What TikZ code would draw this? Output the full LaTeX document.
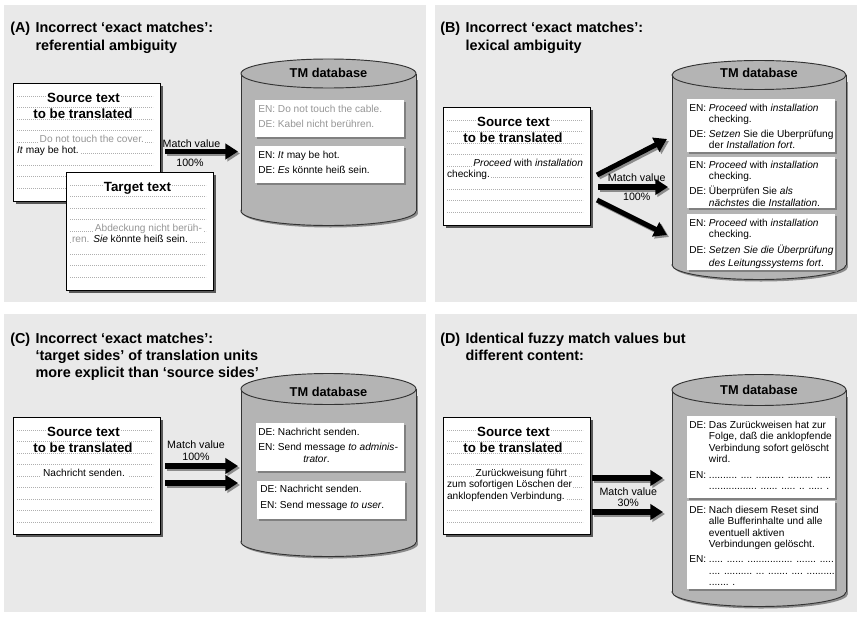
\documentclass[tikz,border=0pt]{standalone}
\usepackage{fontspec}
\setmainfont{Liberation Sans}
\usepackage{tikz}
\usetikzlibrary{arrows.meta,shadows}
\usepackage{xcolor}
\definecolor{panelgray}{RGB}{233,233,233}
\definecolor{dbgray}{RGB}{180,180,180}
\definecolor{fadedtext}{RGB}{150,150,150}
\definecolor{rulegray}{RGB}{175,175,175}

\begin{document}
\begin{tikzpicture}[x=0.75pt, y=-0.75pt,
    paneltitle/.style={anchor=base west, inner sep=0pt, font=\bfseries\fontsize{10.8}{12.8}\selectfont},
    paper/.style={draw=black, fill=white, line width=0.7pt, drop shadow={shadow xshift=2.2pt, shadow yshift=-2.2pt, fill=black!65, opacity=1}},
    ruled/.style={rulegray, line width=0.45pt, dash pattern=on 0.4pt off 1.1pt},
    papertitle/.style={fill=white, inner sep=0.3pt, font=\bfseries\fontsize{10}{12}\selectfont},
    papertext/.style={fill=white, inner sep=0.6pt, font=\fontsize{7.6}{8.6}\selectfont},
    dbbody/.style={fill=dbgray, draw=black!80, line width=0.7pt},
    dbtitle/.style={font=\bfseries\fontsize{9.6}{11}\selectfont},
    tmunit/.style={fill=white, drop shadow={shadow xshift=1.5pt, shadow yshift=-1.5pt, fill=black!50, opacity=1}},
    unittext/.style={anchor=base west, inner sep=0pt, font=\fontsize{7.6}{8.6}\selectfont},
    matchlabel/.style={inner sep=0pt, font=\fontsize{8}{9.6}\selectfont},
    matcharrow/.style={line width=3.8pt, -{Triangle[length=9.5pt, width=11.5pt]}},
    arrowshadow/.style={matcharrow, black!45},
]
    \useasboundingbox (0,0) rectangle (862,617);
    \fill[white] (0,0) rectangle (862,617);

    % panel backgrounds
    \fill[panelgray] (4,5) rectangle (426,302);
    \fill[panelgray] (435,5) rectangle (857,302);
    \fill[panelgray] (4,314) rectangle (426,612);
    \fill[panelgray] (435,314) rectangle (857,612);

    % ---------- (A) ----------
    \node[paneltitle] (titleA) at (10,33) {\begin{tabular}[t]{@{}l@{\hspace{4pt}}l@{}}(A)&Incorrect ‘exact matches’:\\&referential ambiguity\end{tabular}};

    \draw[paper] (13,83) rectangle (160,201);
    \foreach \k in {0,...,8}
        \draw[ruled] (17,96+11.5*\k) -- (153,96+11.5*\k);
    \node[papertitle] (srcA-title) at (83.5,98) {Source text};
    \node[papertitle] (srcA-title2) at (83,114) {to be translated};
    \node[papertext, anchor=base east, text=fadedtext] (srcA-l1) at (145,142) {Do not touch the cover.};
    \node[papertext, anchor=base west] (srcA-l2) at (16,153.5) {\textit{It} may be hot.};

    \draw[paper] (66,172) rectangle (213,290);
    \foreach \k in {0,...,8}
        \draw[ruled] (70,185+11.5*\k) -- (206,185+11.5*\k);
    \node[papertitle] (tgtA-title) at (137.5,188) {Target text};
    \node[papertext, anchor=base east, text=fadedtext] (tgtA-l1) at (203,231) {Abdeckung nicht berüh-};
    \node[papertext, anchor=base west] (tgtA-l2) at (71,242.5) {\textcolor{fadedtext}{ren.} \textit{Sie} könnte heiß sein.};

    % database A
    \fill[black!45] (243,80) rectangle (418,213);
    \fill[black!45] (330.5,213) ellipse [x radius=87.5, y radius=14.5];
    \draw[dbbody] (328.5,211) ellipse [x radius=87.5, y radius=14.5];
    \fill[dbgray] (241,73.5) rectangle (416,211);
    \draw[black!80, line width=0.7pt] (241,73.5) -- (241,211) (416,73.5) -- (416,211);
    \draw[dbbody] (328.5,73.5) ellipse [x radius=87.5, y radius=14.5];
    \node[dbtitle] (dbA) at (328.5,73) {TM database};

    \fill[tmunit] (255,100) rectangle (404,137);
    \node[unittext, text=fadedtext] (A-unit1) at (258,112.5) {\begin{tabular}[t]{@{}l@{\ }l@{}}EN:&Do not touch the cable.\\[3pt]DE:&Kabel nicht berühren.\end{tabular}};
    \fill[tmunit] (255,146) rectangle (404,183);
    \node[unittext] (A-unit2) at (258,158) {\begin{tabular}[t]{@{}l@{\ }l@{}}EN:&\textit{It} may be hot.\\[3.3pt]DE:&\textit{Es} könnte heiß sein.\end{tabular}};

    \node[matchlabel] (mvA) at (191.5,143.5) {Match value};
    \node[matchlabel] (pcA) at (190,162.5) {100\%};
    \coordinate (A-out) at (165,151.5);
    \coordinate (A-in) at (238,151.5);
    \draw[arrowshadow] ([shift={(2,2)}]A-out) -- ([shift={(2,2)}]A-in);
    \draw[matcharrow] (A-out) -- (A-in);

    % ---------- (B) ----------
    \node[paneltitle] (titleB) at (440,33) {\begin{tabular}[t]{@{}l@{\hspace{4pt}}l@{}}(B)&Incorrect ‘exact matches’:\\&lexical ambiguity\end{tabular}};

    \draw[paper] (443,107) rectangle (590,225);
    \foreach \k in {0,...,8}
        \draw[ruled] (447,120+11.5*\k) -- (583,120+11.5*\k);
    \node[papertitle] (srcB-title) at (513.5,122) {Source text};
    \node[papertitle] (srcB-title2) at (513,138) {to be translated};
    \node[papertext, anchor=base east] (srcB-l1) at (584,166) {\textit{Proceed} with \textit{installation}};
    \node[papertext, anchor=base west] (srcB-l2) at (446,177.5) {checking.};

    % database B
    \fill[black!45] (674,82) rectangle (848,267);
    \fill[black!45] (761,267) ellipse [x radius=87, y radius=14.5];
    \draw[dbbody] (759,265) ellipse [x radius=87, y radius=14.5];
    \fill[dbgray] (672,75) rectangle (846,265);
    \draw[black!80, line width=0.7pt] (672,75) -- (672,265) (846,75) -- (846,265);
    \draw[dbbody] (759,75) ellipse [x radius=87, y radius=14.5];
    \node[dbtitle] (dbB) at (759,73) {TM database};

    \fill[tmunit] (687,99) rectangle (835,152);
    \node[unittext] (B-unit1) at (689,111.5) {\begin{tabular}[t]{@{}l@{\ }l@{}}EN:&\textit{Proceed} with \textit{installation}\\&checking.\\[2.3pt]DE:&\textit{Setzen} Sie die Uberprüfung\\&der \textit{Installation fort}.\end{tabular}};
    \fill[tmunit] (687,157) rectangle (835,208);
    \node[unittext] (B-unit2) at (689,168.5) {\begin{tabular}[t]{@{}l@{\ }l@{}}EN:&\textit{Proceed} with \textit{installation}\\&checking.\\[2.3pt]DE:&Überprüfen Sie \textit{als}\\&\textit{nächstes} die \textit{Installation}.\end{tabular}};
    \fill[tmunit] (687,214) rectangle (835,270);
    \node[unittext] (B-unit3) at (689,226.2) {\begin{tabular}[t]{@{}l@{\ }l@{}}EN:&\textit{Proceed} with \textit{installation}\\&checking.\\[3pt]DE:&\textit{Setzen Sie die Überprüfung}\\[1pt]&\textit{des Leitungssystems fort}.\end{tabular}};

    \coordinate (B-out1) at (597,175);
    \coordinate (B-in1) at (667,139);
    \coordinate (B-out2) at (598,187);
    \coordinate (B-in2) at (668,187);
    \coordinate (B-out3) at (597,200);
    \coordinate (B-in3) at (667,235);
    \draw[arrowshadow] ([shift={(2,2)}]B-out1) -- ([shift={(2,2)}]B-in1);
    \draw[arrowshadow] ([shift={(2,2)}]B-out2) -- ([shift={(2,2)}]B-in2);
    \draw[arrowshadow] ([shift={(2,2)}]B-out3) -- ([shift={(2,2)}]B-in3);
    \draw[matcharrow] (B-out1) -- (B-in1);
    \draw[matcharrow] (B-out2) -- (B-in2);
    \draw[matcharrow] (B-out3) -- (B-in3);
    \node[matchlabel] (mvB) at (636.7,177.5) {Match value};
    \node[matchlabel] (pcB) at (636.7,196.7) {100\%};

    % ---------- (C) ----------
    \node[paneltitle] (titleC) at (10,343) {\begin{tabular}[t]{@{}l@{\hspace{4pt}}l@{}}(C)&Incorrect ‘exact matches’:\\&‘target sides’ of translation units\\&more explicit than ‘source sides’\end{tabular}};

    \draw[paper] (13,417) rectangle (160,534);
    \foreach \k in {0,...,8}
        \draw[ruled] (17,430+11.5*\k) -- (153,430+11.5*\k);
    \node[papertitle] (srcC-title) at (83.5,432) {Source text};
    \node[papertitle] (srcC-title2) at (83,448) {to be translated};
    \node[papertext, anchor=base, inner xsep=2.5pt] (srcC-l1) at (84,476) {Nachricht senden.};

    % database C
    \fill[black!45] (243,396) rectangle (418,544);
    \fill[black!45] (330.5,544) ellipse [x radius=87.5, y radius=14.5];
    \draw[dbbody] (328.5,542) ellipse [x radius=87.5, y radius=14.5];
    \fill[dbgray] (241,389) rectangle (416,542);
    \draw[black!80, line width=0.7pt] (241,389) -- (241,542) (416,389) -- (416,542);
    \draw[dbbody] (328.5,389) ellipse [x radius=87.5, y radius=15.5];
    \node[dbtitle] (dbC) at (328.5,392) {TM database};

    \fill[tmunit] (256,423) rectangle (404,471);
    \node[unittext] (C-unit1) at (258,435.2) {\begin{tabular}[t]{@{}l@{\ }l@{}}DE:&Nachricht senden.\\[2.6pt]EN:&Send message \textit{to adminis-}\\[0.5pt]&\hspace{19pt}\textit{trator}.\end{tabular}};
    \fill[tmunit] (257,481) rectangle (405,519);
    \node[unittext] (C-unit2) at (260,492.8) {\begin{tabular}[t]{@{}l@{\ }l@{}}DE:&Nachricht senden.\\[2.8pt]EN:&Send message \textit{to user}.\end{tabular}};

    \node[matchlabel] (mvC) at (196,445) {Match value};
    \node[matchlabel] (pcC) at (196,457) {100\%};
    \coordinate (C-out1) at (165,466);
    \coordinate (C-in1) at (238,466);
    \coordinate (C-out2) at (165,483);
    \coordinate (C-in2) at (238,483);
    \draw[arrowshadow] ([shift={(2,2)}]C-out1) -- ([shift={(2,2)}]C-in1);
    \draw[arrowshadow] ([shift={(2,2)}]C-out2) -- ([shift={(2,2)}]C-in2);
    \draw[matcharrow] (C-out1) -- (C-in1);
    \draw[matcharrow] (C-out2) -- (C-in2);

    % ---------- (D) ----------
    \node[paneltitle] (titleD) at (440,343) {\begin{tabular}[t]{@{}l@{\hspace{4pt}}l@{}}(D)&Identical fuzzy match values but\\&different content:\end{tabular}};

    \draw[paper] (443,417) rectangle (590,534);
    \foreach \k in {0,...,8}
        \draw[ruled] (447,430+11.5*\k) -- (583,430+11.5*\k);
    \node[papertitle] (srcD-title) at (513.5,432) {Source text};
    \node[papertitle] (srcD-title2) at (513,448) {to be translated};
    \node[papertext, anchor=base east] (srcD-l1) at (568,476) {Zurückweisung führt};
    \node[papertext, anchor=base west] (srcD-l2) at (446,487.5) {zum sofortigen Löschen der};
    \node[papertext, anchor=base west] (srcD-l3) at (446,499) {anklopfenden Verbindung.};

    % database D
    \fill[black!45] (674,397) rectangle (848,594);
    \fill[black!45] (761,594) ellipse [x radius=87, y radius=14.5];
    \draw[dbbody] (759,592) ellipse [x radius=87, y radius=14.5];
    \fill[dbgray] (672,390) rectangle (846,592);
    \draw[black!80, line width=0.7pt] (672,390) -- (672,592) (846,390) -- (846,592);
    \draw[dbbody] (759,390) ellipse [x radius=87, y radius=15.5];
    \node[dbtitle] (dbD) at (759,390) {TM database};

    \fill[tmunit] (687,416) rectangle (835,498);
    \node[unittext] (D-unit1) at (689,428.5) {\begin{tabular}[t]{@{}l@{\ }l@{}}DE:&Das Zurückweisen hat zur\\&Folge, daß die anklopfende\\&Verbindung sofort gelöscht\\&wird.\\[3.1pt]EN:&.......... .... .......... ......... .....\\&................. ...... ..... .. ..... .\end{tabular}};
    \fill[tmunit] (687,501) rectangle (835,589);
    \node[unittext] (D-unit2) at (689,513.5) {\begin{tabular}[t]{@{}l@{\ }l@{}}DE:&Nach diesem Reset sind\\&alle Bufferinhalte und alle\\&eventuell aktiven\\&Verbindungen gelöscht.\\[2.6pt]EN:&..... ...... ................ ....... .....\\&.... .......... ... ....... .... ..........\\&....... .\end{tabular}};

    \node[matchlabel] (mvD) at (628.3,491.7) {Match value};
    \node[matchlabel] (pcD) at (628.3,503.3) {30\%};
    \coordinate (D-out1) at (592,478);
    \coordinate (D-in1) at (663,478);
    \coordinate (D-out2) at (592,512);
    \coordinate (D-in2) at (663,512);
    \draw[arrowshadow] ([shift={(2,2)}]D-out1) -- ([shift={(2,2)}]D-in1);
    \draw[arrowshadow] ([shift={(2,2)}]D-out2) -- ([shift={(2,2)}]D-in2);
    \draw[matcharrow] (D-out1) -- (D-in1);
    \draw[matcharrow] (D-out2) -- (D-in2);
\end{tikzpicture}
\end{document}
